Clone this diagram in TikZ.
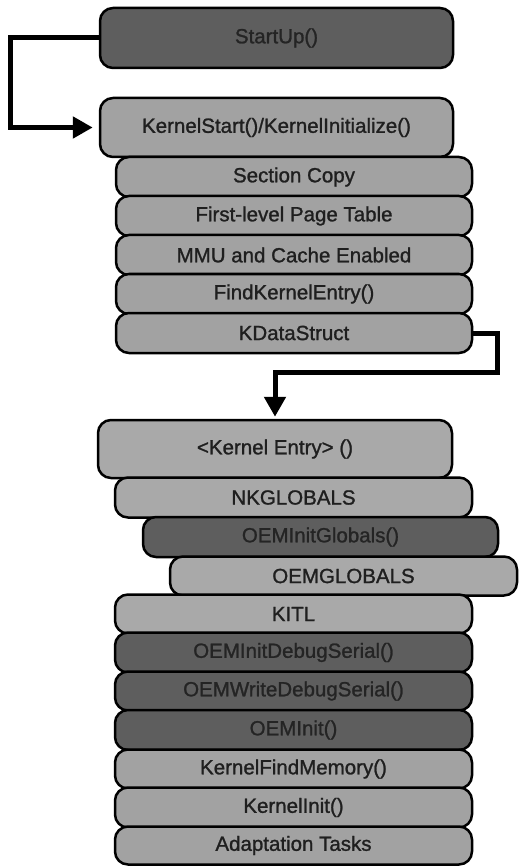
\documentclass[tikz,border=0pt]{standalone}
\usepackage{fontspec}
\setmainfont{Liberation Sans}[UprightFeatures={FakeBold=1.2}]
\usetikzlibrary{arrows.meta}
\definecolor{lightfill}{HTML}{A2A2A2}
\definecolor{paler}{HTML}{A9A9A9}
\definecolor{darkfill}{HTML}{5E5E5E}
\definecolor{darktext}{HTML}{242424}
\tikzset{
  box/.style={draw=black, line width=2.5pt, rounded corners=13pt, rectangle,
    inner sep=0pt, font=\fontsize{20.5}{23}\selectfont, text=black!88},
  lightbox/.style={box, fill=lightfill},
  palebox/.style={box, fill=paler},
  darkbox/.style={box, fill=darkfill, text=darktext},
  conn/.style={draw=black, line width=5pt, -{Triangle[length=20pt,width=21pt]}}
}
\begin{document}
\begin{tikzpicture}[x=1pt,y=-1pt]
\useasboundingbox (0,0) rectangle (519,866);
\fill[white] (0,0) rectangle (519,866);
% top group
\node[darkbox, minimum width=353pt, minimum height=60pt] (start) at (276.5,38) {StartUp()};
\node[lightbox, minimum width=353pt, minimum height=59pt] (kstart) at (276.5,127.5) {KernelStart()/KernelInitialize()};
\node[lightbox, minimum width=356pt, minimum height=40pt] (sec) at (294,177) {Section Copy};
\node[lightbox, minimum width=356pt, minimum height=40pt] (flpt) at (294,216) {First-level Page Table};
\node[lightbox, minimum width=356pt, minimum height=40pt] (mmu) at (294,255) {MMU and Cache Enabled};
\node[lightbox, minimum width=356pt, minimum height=40pt] (fke) at (294,294) {FindKernelEntry()};
\node[lightbox, minimum width=356pt, minimum height=40pt] (kds) at (294,333) {KDataStruct};
% bottom group
\node[palebox, minimum width=354pt, minimum height=58pt] (kentry) at (275,449) {<Kernel Entry> ()};
\node[palebox, minimum width=357pt, minimum height=40pt] (nk) at (293.5,497.5) {NKGLOBALS};
\node[darkbox, minimum width=355pt, minimum height=40pt] (oig) at (320.5,537) {OEMInitGlobals()};
\node[palebox, minimum width=347pt, minimum height=39pt] (oemg) at (343.5,576) {OEMGLOBALS};
\node[palebox, minimum width=357pt, minimum height=39pt] (kitl) at (293.5,614) {KITL};
\node[darkbox, minimum width=357pt, minimum height=40pt] (oids) at (293.5,652.5) {OEMInitDebugSerial()};
\node[darkbox, minimum width=357pt, minimum height=39pt] (owds) at (293.5,691) {OEMWriteDebugSerial()};
\node[darkbox, minimum width=357pt, minimum height=40pt] (oinit) at (293.5,730) {OEMInit()};
\node[lightbox, minimum width=357pt, minimum height=39pt] (kfm) at (293.5,769) {KernelFindMemory()};
\node[lightbox, minimum width=357pt, minimum height=40pt] (kinit) at (293.5,807.5) {KernelInit()};
\node[lightbox, minimum width=357pt, minimum height=38pt] (adapt) at (293.5,845.5) {Adaptation Tasks};
% connectors
\coordinate (c0) at (10.5,38);
\coordinate (c1) at (497.5,372);
\draw[conn, shorten >=6pt] (start.west) -- (c0) |- (kstart.west);
\draw[conn, shorten >=2pt] (kds.east) -| (c1) -| (kentry.north);
\end{tikzpicture}
\end{document}
